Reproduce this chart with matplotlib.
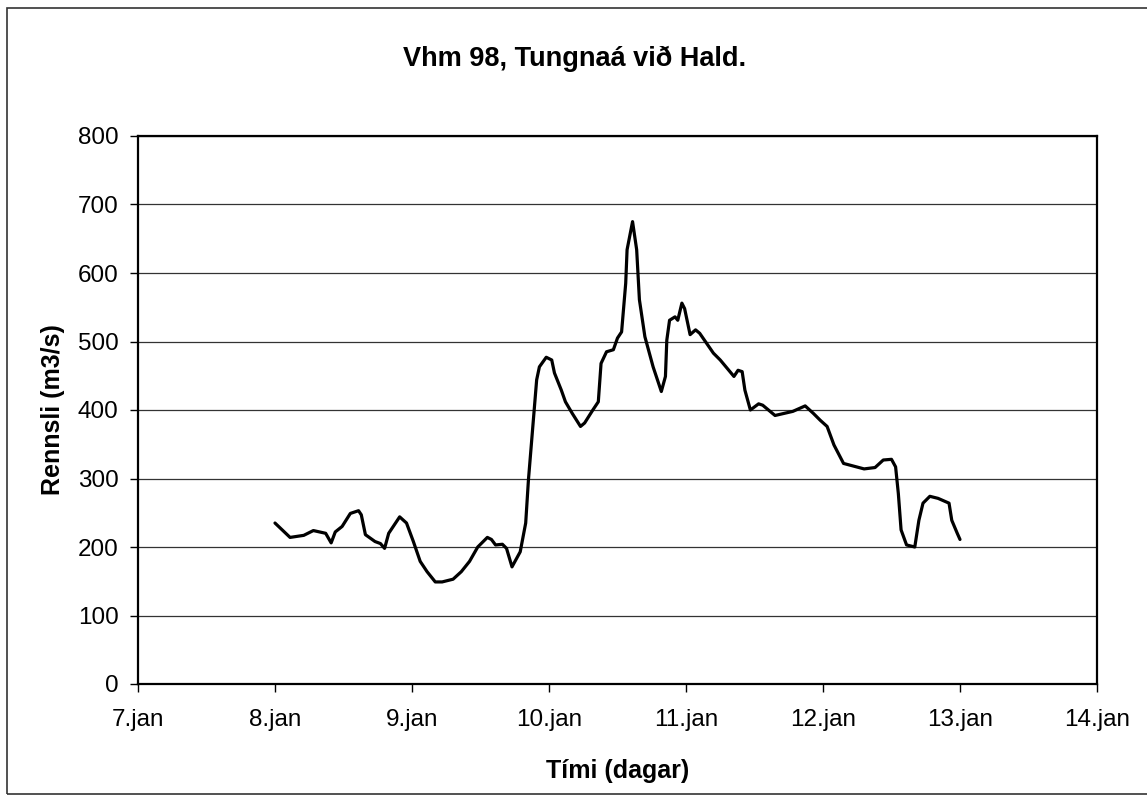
import matplotlib
matplotlib.use("Agg")
import matplotlib.pyplot as plt
from matplotlib.patches import Rectangle

# Vhm 98, Tungnaá við Hald. - discharge
days = [8.00, 8.11, 8.21, 8.28, 8.37, 8.41, 8.44, 8.49, 8.55, 8.61, 8.63, 8.66,
        8.73, 8.77, 8.80, 8.83, 8.91, 8.96, 9.01, 9.06, 9.11, 9.17, 9.22, 9.30,
        9.36, 9.42, 9.48, 9.55, 9.58, 9.61, 9.66, 9.69, 9.73, 9.79, 9.83, 9.85,
        9.88, 9.91, 9.93, 9.98, 10.02, 10.04, 10.09, 10.12, 10.17, 10.23, 10.26,
        10.32, 10.36, 10.38, 10.42, 10.47, 10.50, 10.53, 10.56, 10.57, 10.61,
        10.64, 10.66, 10.70, 10.76, 10.80, 10.82, 10.85, 10.86, 10.88, 10.92,
        10.94, 10.97, 10.99, 11.03, 11.07, 11.10, 11.20, 11.25, 11.35, 11.38,
        11.41, 11.43, 11.47, 11.53, 11.56, 11.65, 11.78, 11.87, 11.93, 11.98,
        12.03, 12.08, 12.15, 12.30, 12.38, 12.44, 12.50, 12.53, 12.55, 12.57,
        12.61, 12.67, 12.70, 12.73, 12.78, 12.84, 12.92, 12.94, 12.98, 13.00]
flow = [235, 214, 217, 224, 220, 206, 222, 230, 249, 253, 247, 218,
        208, 205, 198, 220, 244, 235, 208, 179, 164, 149, 149, 153,
        164, 179, 200, 214, 211, 203, 204, 198, 171, 193, 235, 298,
        371, 444, 463, 477, 473, 454, 429, 412, 395, 376, 381,
        400, 412, 468, 485, 488, 505, 514, 585, 634, 675,
        634, 561, 507, 463, 439, 427, 449, 502, 531, 536,
        531, 556, 548, 510, 517, 512, 483, 473, 449, 458,
        456, 429, 400, 409, 407, 392, 398, 406, 395, 385,
        376, 349, 322, 314, 316, 327, 328, 317, 278, 225,
        203, 200, 239, 264, 274, 271, 264, 239, 220, 211]

xticks = [7, 8, 9, 10, 11, 12, 13, 14]
xlabels = ["7.jan", "8.jan", "9.jan", "10.jan", "11.jan", "12.jan", "13.jan", "14.jan"]
yticks = [0, 100, 200, 300, 400, 500, 600, 700, 800]

plt.rcParams["font.family"] = ["Liberation Sans", "DejaVu Sans"]

fig = plt.figure(figsize=(11.47, 8.0), dpi=100)
ax = fig.add_axes([0.1203, 0.145, 0.8361, 0.685])

ax.plot(days, flow, color="black", linewidth=2.3,
        solid_joinstyle="round", solid_capstyle="round")

ax.set_xlim(7, 14)
ax.set_ylim(0, 800)
ax.set_xticks(xticks)
ax.set_xticklabels(xlabels)
ax.set_yticks(yticks)
ax.tick_params(axis="both", labelsize=17.5, direction="out", length=6, width=1.0)
ax.tick_params(axis="x", pad=12)
ax.tick_params(axis="y", pad=8)
ax.yaxis.grid(True, color="#333333", linewidth=0.9)
ax.set_axisbelow(True)
for s in ax.spines.values():
    s.set_linewidth(1.6)

ax.set_xlabel("Tími (dagar)", fontsize=18, fontweight="bold", labelpad=20)
ax.set_ylabel("Rennsli (m3/s)", fontsize=18, fontweight="bold", labelpad=9)
fig.text(0.501, 0.927, "Vhm 98, Tungnaá við Hald.", ha="center", va="center",
         fontsize=19.5, fontweight="bold")

# outer chart-area frame
fig.patches.append(Rectangle((0.006, 0.008), 1.1, 0.982, transform=fig.transFigure,
                             fill=False, edgecolor="#333333", linewidth=1.2))

fig.savefig("out.png", dpi=100, facecolor="white")
